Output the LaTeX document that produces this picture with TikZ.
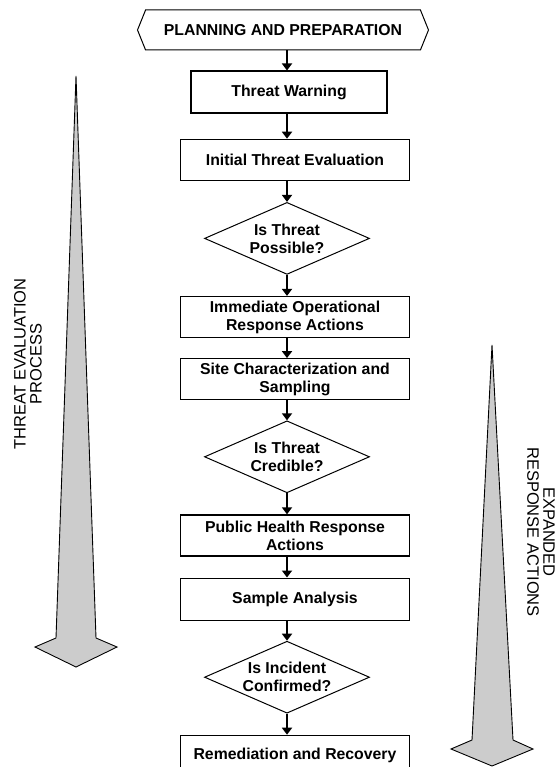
\documentclass[tikz,border=0pt]{standalone}
\usepackage{fontspec}
\setmainfont{Liberation Sans}
\usepackage{tikz}
\usetikzlibrary{positioning, shapes.geometric, shapes.symbols, arrows.meta}

\begin{document}
\begin{tikzpicture}[x=1pt,y=-1pt,
                  stage/.style={rectangle,draw=black,line width=1.2pt,inner sep=2pt,
                    minimum width=229pt,minimum height=41pt,align=center,
                    font=\fontsize{15.8}{18}\selectfont\bfseries},
                  query/.style={diamond,draw=black,line width=1pt,inner sep=0pt,aspect=2.3,
                    minimum width=165pt,minimum height=72pt,align=center,
                    font=\fontsize{15.8}{18}\selectfont\bfseries},
                  banner/.style={signal,signal to=west and east,signal pointer angle=136,
                    draw=black,line width=1pt,minimum width=291pt,minimum height=40pt,
                    font=\fontsize{15.8}{18}\selectfont\bfseries},
                  flow/.style={->,>={Triangle[width=10pt,length=7pt]},line width=2.4pt},
                  bigarrow/.style={draw=black,line width=0.9pt,fill=black!20,line join=miter},
                  sidelabel/.style={align=center,inner sep=0pt,
                    font=\fontsize{16.5}{16}\selectfont}
                  ]
                  \useasboundingbox (0,0) rectangle (557,767);

                  % main flow
                  \node[banner] (plan) at (283,30) {PLANNING AND PREPARATION};
                  \node[stage, minimum width=196pt, minimum height=42pt] (warn) [below=20pt of plan, xshift=6pt] {Threat Warning};
                  \node[stage] (evalu) [below=25pt of warn, xshift=6pt] {Initial Threat Evaluation};
                  \node[query] (possible) [below=21pt of evalu, xshift=-8pt] {Is Threat\\Possible?};
                  \node[stage] (immed) [below=21pt of possible, xshift=8pt] {Immediate Operational\\Response Actions};
                  \node[stage] (site) [below=20pt of immed] {Site Characterization and\\Sampling};
                  \node[query] (credible) [below=20pt of site, xshift=-8pt] {Is Threat\\Credible?};
                  \node[stage] (health) [below=21pt of credible, xshift=8pt] {Public Health Response\\Actions};
                  \node[stage, minimum height=42pt] (sample) [below=21pt of health] {Sample Analysis};
                  \node[query] (confirmed) [below=20pt of sample, xshift=-8pt] {Is Incident\\Confirmed?};
                  \node[stage] (remed) [below=21pt of confirmed, xshift=8pt] {Remediation and Recovery};

                  \draw[flow] (plan.south -| possible) -- (warn.north -| possible);
                  \draw[flow] (warn.south -| possible) -- (evalu.north -| possible);
                  \draw[flow] (evalu.south -| possible) -- (possible.north);
                  \draw[flow] (possible.south) -- (immed.north -| possible);
                  \draw[flow] (immed.south -| possible) -- (site.north -| possible);
                  \draw[flow] (site.south -| possible) -- (credible.north);
                  \draw[flow] (credible.south) -- (health.north -| credible);
                  \draw[flow] (health.south -| credible) -- (sample.north -| credible);
                  \draw[flow] (sample.south -| credible) -- (confirmed.north);
                  \draw[flow] (confirmed.south) -- (remed.north -| confirmed);

                  % side arrows
                  \draw[bigarrow] (76,76) -- (96,638) -- (117,647) -- (76,667)
                    -- (35,647) -- (56,638) -- cycle;
                  \draw[bigarrow] (492,345) -- (513,740) -- (533,749) -- (492,766)
                    -- (451,749) -- (472,740) -- cycle;
                  \node[sidelabel, rotate=90] (evallbl) at (28,364) {THREAT EVALUATION\\PROCESS};
                  \node[sidelabel, rotate=-90] (expandlbl) at (541,532) {EXPANDED\\RESPONSE ACTIONS};
\end{tikzpicture}
\end{document}
